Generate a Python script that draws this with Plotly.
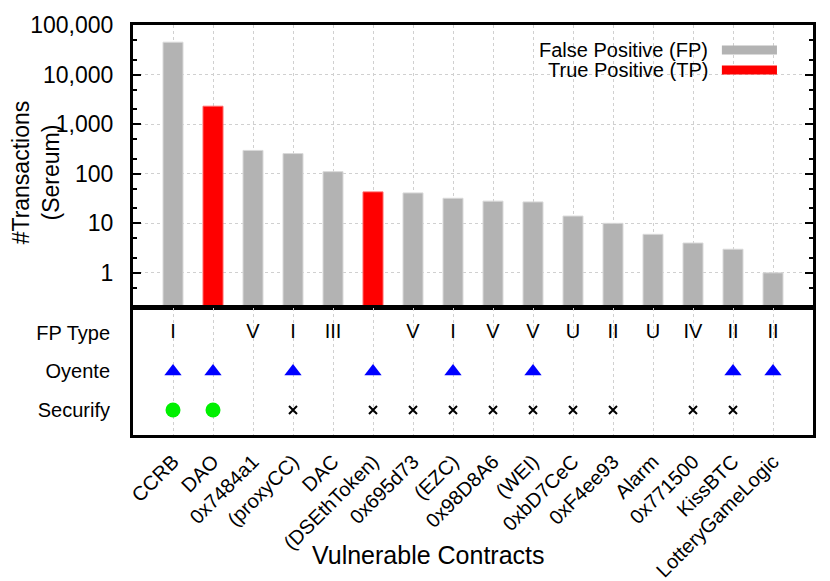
import plotly.graph_objects as go

contracts = ["CCRB", "DAO", "0x7484a1", "(proxyCC)", "DAC", "(DSEthToken)", "0x695d73",
             "(EZC)", "0x98D8A6", "(WEI)", "0xbD7CeC", "0xF4ee93", "Alarm", "0x771500",
             "KissBTC", "LotteryGameLogic"]
transactions = [45000, 2300, 295, 255, 110, 43, 41, 32, 28, 27, 14, 10, 6, 4, 3, 1]
is_true_positive = [False, True, False, False, False, True, False, False, False, False,
                    False, False, False, False, False, False]
fp_type = ["I", "", "V", "I", "III", "", "V", "I", "V", "V", "U", "II", "U", "IV", "II", "II"]
oyente = [1, 1, 0, 1, 0, 1, 0, 1, 0, 1, 0, 0, 0, 0, 1, 1]
# securify: "ok" = detected (green), "x" = not detected marker, "" = nothing
securify = ["ok", "ok", "", "x", "", "x", "x", "x", "x", "x", "x", "x", "", "x", "x", ""]
row_labels = ["Securify", "Oyente", "FP Type"]
ytick_vals = [1, 10, 100, 1000, 10000, 100000]

FONT = "Liberation Sans, Arial, Helvetica, sans-serif"
GRAY = "#b3b3b3"
RED = "#ff0000"

fp_vals = [v if not t else None for v, t in zip(transactions, is_true_positive)]
tp_vals = [v if t else None for v, t in zip(transactions, is_true_positive)]

fig = go.Figure()
fig.add_trace(go.Bar(x=contracts, y=fp_vals, name="False Positive (FP)", marker_color=GRAY,
                     marker_line=dict(color="#d9d9d9", width=1), width=0.5,
                     xaxis="x", yaxis="y", showlegend=False))
fig.add_trace(go.Bar(x=contracts, y=tp_vals, name="True Positive (TP)", marker_color=RED,
                     marker_line=dict(color="#ff6666", width=1), width=0.5,
                     xaxis="x", yaxis="y", showlegend=False))

# bottom table panel
fig.add_trace(go.Scatter(x=contracts, y=["FP Type"] * len(contracts), mode="text", text=fp_type,
                         textfont=dict(size=20, color="black", family=FONT),
                         xaxis="x2", yaxis="y2", showlegend=False, hoverinfo="skip"))
oy_x = [c for c, o in zip(contracts, oyente) if o]
fig.add_trace(go.Scatter(x=oy_x, y=["Oyente"] * len(oy_x), mode="markers",
                         marker=dict(symbol="triangle-up", size=15, color="#0000ff"),
                         xaxis="x2", yaxis="y2", showlegend=False))
ok_x = [c for c, s in zip(contracts, securify) if s == "ok"]
fig.add_trace(go.Scatter(x=ok_x, y=["Securify"] * len(ok_x), mode="markers",
                         marker=dict(symbol="circle", size=15, color="#00f000"),
                         xaxis="x2", yaxis="y2", showlegend=False))
nx_x = [c for c, s in zip(contracts, securify) if s == "x"]
fig.add_trace(go.Scatter(x=nx_x, y=["Securify"] * len(nx_x), mode="markers",
                         marker=dict(symbol="x-thin", size=8, line=dict(color="black", width=2)),
                         xaxis="x2", yaxis="y2", showlegend=False))

axis_common = dict(showline=True, linewidth=3, linecolor="black", mirror=True, automargin=False)

# the page body adds an 8px offset, so the figure is made 8px smaller and shifted
fig.update_layout(
    width=822, height=573,
    margin=dict(l=125, r=17, t=17, b=146),
    paper_bgcolor="white", plot_bgcolor="white",
    font=dict(family=FONT, color="black"),
    barmode="overlay",
    xaxis=dict(domain=[0, 1], anchor="y", type="category", categoryorder="array",
               categoryarray=contracts, range=[-1, len(contracts)], showticklabels=False,
               showgrid=True, gridcolor="#d0d0d0", griddash="dot", gridwidth=1,
               ticks="", **axis_common),
    yaxis=dict(domain=[0.312, 1], anchor="x", type="log", range=[-0.69, 5],
               tickvals=ytick_vals, tickformat=",d", ticks="inside", ticklen=8,
               tickwidth=1.5, tickcolor="black",
               minor=dict(ticks="inside", ticklen=4, tickcolor="black", showgrid=False),
               showgrid=True, gridcolor="#d0d0d0", griddash="dot", gridwidth=1,
               tickfont=dict(size=23), ticklabelstandoff=12, automargin=False,
               showline=True, linewidth=3, linecolor="black", mirror="allticks"),
    xaxis2=dict(domain=[0, 1], anchor="y2", type="category", categoryorder="array",
                categoryarray=contracts, range=[-1, len(contracts)], tickangle=-45,
                tickfont=dict(size=20), ticks="outside", ticklen=4, tickcolor="rgba(0,0,0,0)",
                showgrid=True, gridcolor="#d0d0d0", griddash="dot", gridwidth=1,
                **axis_common),
    yaxis2=dict(domain=[0, 0.31], anchor="x2", type="category", categoryorder="array",
                categoryarray=row_labels, range=[-0.65, 2.65], showgrid=False,
                ticks="", tickfont=dict(size=20), ticklabelstandoff=16,
                **axis_common),
)

# y-axis title
fig.add_annotation(xref="paper", yref="paper", x=-0.143, y=0.64,
                   text="#Transactions<br>(Sereum)", textangle=-90, showarrow=False,
                   font=dict(size=23), xanchor="center", yanchor="middle")
# x-axis title
fig.add_annotation(xref="paper", yref="paper", x=0.434, y=-0.293,
                   text="Vulnerable Contracts", showarrow=False,
                   font=dict(size=25), xanchor="center", yanchor="middle")

# legend (text on the left, swatch on the right, like the original)
legend_items = [("False Positive (FP)", GRAY, 0.939), ("True Positive (TP)", RED, 0.890)]
for label, col, yy in legend_items:
    fig.add_annotation(xref="paper", yref="paper", x=0.849, y=yy, text=label,
                       showarrow=False, xanchor="right", yanchor="middle", font=dict(size=20))
    fig.add_shape(type="rect", xref="paper", yref="paper", x0=0.866, x1=0.947,
                  y0=yy - 0.011, y1=yy + 0.011, fillcolor=col, line=dict(width=0))

fig.write_html("out.html")
